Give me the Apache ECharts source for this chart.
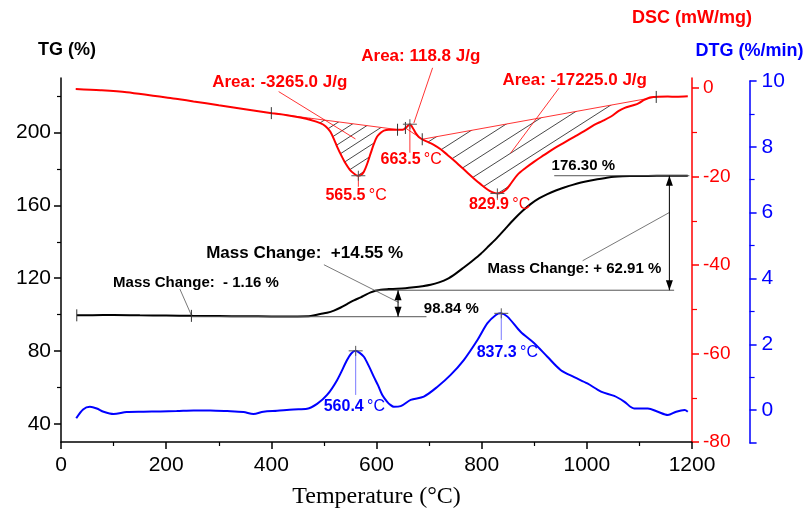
<!DOCTYPE html>
<html><head><meta charset="utf-8">
<script src="https://cdn.jsdelivr.net/npm/echarts@6/dist/echarts.min.js"></script>
<style>html,body{margin:0;padding:0;background:#fff}#c{width:809px;height:510px}</style>
</head><body><div id="c"></div>
<script>
// ---------------- data ----------------
const tgCurve = [[30,99.6],[60,99.7],[100,99.8],[150,99.6],[200,99.5],[250,99.3],[300,99.2],[350,99.1],[400,99.0],[450,99.0],[475,99.2],[493,100.3],[506,101.0],[519,102.2],[532,103.9],[544,105.8],[557,107.8],[570,109.5],[580,111.0],[589,112.2],[598,113.1],[608,113.7],[623,114.0],[639,114.2],[655,114.5],[671,115.0],[687,115.6],[703,116.4],[719,117.7],[735,119.6],[750,122.4],[766,125.9],[782,129.5],[798,133.3],[814,137.8],[830,142.4],[846,147.5],[862,152.5],[878,157.0],[893,160.7],[909,163.8],[925,166.2],[941,168.2],[957,169.8],[973,171.3],[989,172.6],[1005,173.6],[1020,174.4],[1036,175.1],[1052,175.7],[1068,176.0],[1084,176.1],[1116,176.2],[1150,176.3],[1192,176.3]];
const dscCurve = [[28,-0.16],[75,-0.45],[125,-0.9],[175,-1.7],[200,-2.1],[225,-2.5],[252,-3.0],[300,-3.86],[350,-4.75],[401,-5.66],[430,-6.1],[455,-6.65],[475,-7.2],[493,-7.9],[503,-8.6],[512,-9.8],[520,-11.8],[525,-13.2],[533,-15.2],[541,-17.0],[549,-18.4],[557,-19.3],[565,-19.8],[571,-19.6],[576,-18.9],[582,-17.2],[589,-14.7],[595,-12.6],[601,-11.0],[608,-10.1],[614,-9.6],[623,-9.4],[633,-9.4],[645,-9.4],[652,-9.3],[658,-8.7],[663.5,-8.15],[667,-8.6],[671,-9.4],[676,-10.4],[681,-11.1],[689,-11.7],[700,-12.3],[709,-12.8],[722,-13.8],[735,-15.1],[748,-16.4],[760,-17.7],[772,-19.0],[785,-20.4],[798,-21.7],[811,-22.9],[820,-23.5],[830,-23.8],[838,-23.6],[846,-23.0],[856,-21.5],[868,-19.6],[884,-18.0],[900,-16.6],[919,-15.1],[938,-13.6],[957,-12.3],[976,-11.0],[995,-9.7],[1014,-8.3],[1030,-7.4],[1046,-6.4],[1060,-5.2],[1071,-4.5],[1090,-3.8],[1100,-3.3],[1109,-2.65],[1120,-2.1],[1128,-2.0],[1154,-1.9],[1170,-1.95],[1192,-1.85]];
const dtgCurve = [[29,-0.25],[42,0.02],[55,0.10],[68,0.05],[81,-0.05],[100,-0.12],[125,-0.06],[157,-0.05],[189,-0.04],[220,-0.03],[252,-0.01],[284,-0.01],[316,-0.03],[347,-0.06],[366,-0.12],[385,-0.05],[411,-0.02],[442,0.02],[468,0.04],[487,0.19],[506,0.46],[525,0.91],[544,1.52],[552,1.72],[560,1.80],[568,1.74],[576,1.62],[586,1.32],[595,1.01],[603,0.75],[611,0.46],[620,0.26],[627,0.15],[633,0.10],[646,0.12],[665,0.31],[690,0.41],[716,0.71],[741,1.07],[766,1.52],[792,2.13],[811,2.64],[827,2.89],[836,2.94],[849,2.84],[874,2.38],[900,2.03],[925,1.62],[950,1.22],[976,1.0],[1001,0.81],[1027,0.56],[1052,0.43],[1071,0.26],[1090,0.05],[1116,0.05],[1135,-0.05],[1154,-0.15],[1170,-0.05],[1186,0.0],[1192,-0.05]];

// axis tick values
const tgLabelValues = [40,80,120,160,200];
const tgMinorValues = [60,100,140,180,220];
const dscLabelValues = [-80,-60,-40,-20,0];
const dscMinorValues = [-70,-50,-30,-10];
const dtgLabelValues = [0,2,4,6,8,10];
const dtgTickValues = [-1,0,2,4,6,8,10];
const dtgMinorValues = [1,3,5,7,9];

// TG annotations (temperature, %)
const tgLevels = [[248,695,98.84],[597,1166,113.39],[938,1195,176.30]];
const tgArrows = [[641,98.84,113.39],[1157,113.39,176.30]];
const tgLeaders = [[226,114.1,248,99.6],[500,127.4,642,106.7],[992,129.6,1157,156.1]];
const tgTickTemps = [30,248];
const tgTexts = ['Mass Change:  +14.55 %','Mass Change:  - 1.16 %','Mass Change: + 62.91 %','98.84 %','176.30 %'];
const tgTextAnchors = [[276,133.4],[99,117.5],[811,125.2],[690,103.3],[933,181.8]];

// DSC annotations (temperature, mW/mg)
const dscHatchRanges = [[400,642],[687,1132]];
const dscBaselineRanges = [[400,642],[655,687],[687,1132]];
const dscTickTemps = [400,640,655,687,1132];
const dscPeakTemps = [565.5,663.5,829.9];
const dscPeakValues = [-19.8,-8.15,-23.8];
const dscDropEnds = [-22.3,-14.6,-25.3];
const dscPeakLabelAnchors = [[502.9,-24.2],[607.6,-16.2],[775.8,-26.4]];
const dscAreaTexts = ['Area: -3265.0 J/g','Area: 118.8 J/g','Area: -17225.0 J/g'];
const dscAreaAnchors = [[287.6,1.27],[571,7.1],[839.4,1.88]];
const dscLeaders = [[413.9,-0.77,560,-11.48],[706.7,4.6,671,-7.9],[947,0,855,-14.7]];

// DTG annotations (temperature, %/min)
const dtgPeakTemps = [560.4,837.3];
const dtgPeakValues = [1.80,2.94];
const dtgDropEnds = [0.46,2.13];
const dtgPeakLabelAnchors = [[499.6,0.12],[790.5,1.74]];

// ---------------- helpers ----------------
const FONT = '"Liberation Sans", Arial, Helvetica, sans-serif';
const RED = '#ff0000', BLUE = '#0000ff';

function interp(curve, t) {
  if (t <= curve[0][0]) return curve[0][1];
  for (let i = 0; i < curve.length - 1; i++) {
    const a = curve[i], b = curve[i + 1];
    if (t >= a[0] && t <= b[0]) return a[1] + (b[1] - a[1]) * (t - a[0]) / (b[0] - a[0]);
  }
  return curve[curve.length - 1][1];
}
function makePattern(w, h) {
  const c = document.createElement('canvas'); c.width = w; c.height = h;
  const g = c.getContext('2d');
  g.strokeStyle = '#333'; g.lineWidth = 0.9;
  for (let k = -1; k <= 1; k++) { g.beginPath(); g.moveTo(0, h + k * h); g.lineTo(w, k * h); g.stroke(); }
  return c;
}
const patterns = [makePattern(17, 11), makePattern(25, 16)];
function seg(p1, p2, color, w) {
  return {type:'line', shape:{x1:p1[0], y1:p1[1], x2:p2[0], y2:p2[1]}, style:{stroke:color, lineWidth:w}};
}
function cross(p, color) {
  return [seg([p[0]-7,p[1]],[p[0]+7,p[1]],color,1), seg([p[0],p[1]-5],[p[0],p[1]+5],color,1)];
}
function vtick(p, color) { return seg([p[0],p[1]-6],[p[0],p[1]+6],color,1); }
function txt(p, s, color, size, bold) {
  return {type:'text', x:p[0], y:p[1], style:{text:s, fill:color, font:(bold?'bold ':'')+size+'px '+FONT, align:'left', verticalAlign:'middle'}};
}
function peakTxt(p, s, color, size) {
  return {type:'text', x:p[0], y:p[1], style:{text:'{b|'+s+'} {r|°C}', align:'left', verticalAlign:'middle',
    rich:{b:{fill:color, font:'bold '+size+'px '+FONT}, r:{fill:color, font:size+'px '+FONT}}}};
}
function arrowHead(p, up) {
  const d = up ? 1 : -1;
  return {type:'polygon', shape:{points:[[p[0],p[1]],[p[0]-3.5,p[1]+d*10],[p[0]+3.5,p[1]+d*10]]}, style:{fill:'#000'}};
}

// ---------------- chart ----------------
const chart = echarts.init(document.getElementById('c'), null, {renderer:'canvas', width:809, height:510});

const yBase = (extra) => Object.assign({type:'value', splitLine:{show:false}, minorSplitLine:{show:false}}, extra);
const plain = v => String(v);

const option = {
  animation: false,
  backgroundColor: '#ffffff',
  grid: [
    {left:61, right:117, top:78, bottom:68, containLabel:false, outerBoundsMode:'none'},
    {left:61, right:117, top:81, bottom:67, containLabel:false, outerBoundsMode:'none'}
  ],
  xAxis: [
    {gridIndex:0, type:'value', min:0, max:1200, interval:200,
     name:'Temperature (°C)', nameLocation:'middle', nameGap:43,
     nameTextStyle:{fontFamily:'"Liberation Serif", "Times New Roman", serif', fontSize:24, color:'#000'},
     axisLine:{onZero:false, lineStyle:{color:'#000', width:1.5}},
     axisTick:{length:7, lineStyle:{color:'#000', width:1.5}},
     minorTick:{show:true, splitNumber:2, length:4, lineStyle:{color:'#000', width:1.2}},
     axisLabel:{fontSize:21, color:'#000', fontFamily:FONT, margin:13, formatter:plain},
     splitLine:{show:false}, minorSplitLine:{show:false}},
    {gridIndex:1, type:'value', min:0, max:1200, show:false, axisLine:{onZero:false}}
  ],
  yAxis: [
    yBase({gridIndex:0, position:'left', offset:0, min:30, max:230,
      name:'TG (%)', nameLocation:'end', nameGap:19,
      nameTextStyle:{fontFamily:FONT, fontSize:18, fontWeight:'bold', color:'#000', padding:[0,0,0,12]},
      axisLine:{show:true, onZero:false, lineStyle:{color:'#000', width:1.5}},
      axisTick:{show:true, length:7, customValues:tgLabelValues, lineStyle:{color:'#000', width:1.5}},
      axisLabel:{customValues:tgLabelValues, fontSize:21, color:'#000', fontFamily:FONT, margin:10, formatter:plain}}),
    yBase({gridIndex:0, position:'left', offset:0, min:30, max:230,
      axisLine:{show:false, onZero:false}, axisLabel:{show:false},
      axisTick:{show:true, length:4, customValues:tgMinorValues, lineStyle:{color:'#000', width:1.2}}}),
    yBase({gridIndex:0, position:'right', offset:0, min:-80, max:2.3,
      name:'DSC (mW/mg)', nameLocation:'end', nameGap:51,
      nameTextStyle:{fontFamily:FONT, fontSize:18, fontWeight:'bold', color:RED},
      axisLine:{show:true, onZero:false, lineStyle:{color:RED, width:1.5}},
      axisTick:{show:true, length:7, customValues:dscLabelValues, lineStyle:{color:RED, width:1.5}},
      axisLabel:{customValues:dscLabelValues, fontSize:19, color:RED, fontFamily:FONT, margin:11, formatter:plain}}),
    yBase({gridIndex:0, position:'right', offset:0, min:-80, max:2.3,
      axisLine:{show:false, onZero:false}, axisLabel:{show:false},
      axisTick:{show:true, length:5, customValues:dscMinorValues, lineStyle:{color:RED, width:1.2}}}),
    yBase({gridIndex:1, position:'right', offset:57.6, min:-1, max:10,
      name:'DTG (%/min)', nameLocation:'end', nameGap:21,
      nameTextStyle:{fontFamily:FONT, fontSize:18, fontWeight:'bold', color:BLUE},
      axisLine:{show:true, onZero:false, lineStyle:{color:BLUE, width:1.5}},
      axisTick:{show:true, length:7, customValues:dtgTickValues, lineStyle:{color:BLUE, width:1.5}},
      axisLabel:{customValues:dtgLabelValues, fontSize:21, color:BLUE, fontFamily:FONT, margin:12, formatter:plain}}),
    yBase({gridIndex:1, position:'right', offset:57.6, min:-1, max:10,
      axisLine:{show:false, onZero:false}, axisLabel:{show:false},
      axisTick:{show:true, length:5, customValues:dtgMinorValues, lineStyle:{color:BLUE, width:1.2}}})
  ],
  series: [
    {type:'custom', xAxisIndex:0, yAxisIndex:2, z:1, silent:true, clip:false, data:[[600,-40]], encode:{x:0,y:1},
     renderItem:(params, api) => ({type:'group', children: dscHatchRanges.map((r, i) => {
       const pts = [api.coord([r[0], interp(dscCurve, r[0])])];
       dscCurve.forEach(d => { if (d[0] > r[0] && d[0] < r[1]) pts.push(api.coord(d)); });
       pts.push(api.coord([r[1], interp(dscCurve, r[1])]));
       return {type:'polygon', shape:{points:pts}, style:{fill:{image:patterns[i], repeat:'repeat'}}};
     })})},
    {type:'custom', xAxisIndex:0, yAxisIndex:2, z:3, silent:true, clip:false, data:[[600,-40]], encode:{x:0,y:1},
     renderItem:(params, api) => {
       const ch = [];
       dscBaselineRanges.forEach(r => ch.push(seg(api.coord([r[0], interp(dscCurve, r[0])]), api.coord([r[1], interp(dscCurve, r[1])]), RED, 0.8)));
       dscLeaders.forEach(l => ch.push(seg(api.coord([l[0], l[1]]), api.coord([l[2], l[3]]), RED, 0.8)));
       dscPeakTemps.forEach((t, i) => ch.push(seg(api.coord([t, dscPeakValues[i]]), api.coord([t, dscDropEnds[i]]), RED, 0.8)));
       dscTickTemps.forEach(t => ch.push(vtick(api.coord([t, interp(dscCurve, t)]), '#333')));
       dscPeakTemps.forEach((t, i) => cross(api.coord([t, dscPeakValues[i]]), '#555').forEach(e => ch.push(e)));
       dscAreaTexts.forEach((s, i) => ch.push(txt(api.coord(dscAreaAnchors[i]), s, RED, 17, true)));
       dscPeakTemps.forEach((t, i) => ch.push(peakTxt(api.coord(dscPeakLabelAnchors[i]), t.toFixed(1), RED, 16)));
       return {type:'group', children:ch};
     }},
    {type:'custom', xAxisIndex:0, yAxisIndex:0, z:3, silent:true, clip:false, data:[[600,100]], encode:{x:0,y:1},
     renderItem:(params, api) => {
       const ch = [];
       tgLevels.forEach(l => ch.push(seg(api.coord([l[0], l[2]]), api.coord([l[1], l[2]]), '#555', 1)));
       tgLeaders.forEach(l => ch.push(seg(api.coord([l[0], l[1]]), api.coord([l[2], l[3]]), '#555', 0.8)));
       tgArrows.forEach(a => {
         const lo = api.coord([a[0], a[1]]), hi = api.coord([a[0], a[2]]);
         ch.push(seg(lo, hi, '#000', 1));
         ch.push(arrowHead(hi, true));
         ch.push(arrowHead(lo, false));
       });
       tgTickTemps.forEach(t => ch.push(vtick(api.coord([t, interp(tgCurve, t)]), '#333')));
       tgTexts.forEach((s, i) => ch.push(txt(api.coord(tgTextAnchors[i]), s, '#000', i === 0 ? 17 : 15, true)));
       return {type:'group', children:ch};
     }},
    {type:'custom', xAxisIndex:1, yAxisIndex:4, z:3, silent:true, clip:false, data:[[600,2]], encode:{x:0,y:1},
     renderItem:(params, api) => {
       const ch = [];
       dtgPeakTemps.forEach((t, i) => ch.push(seg(api.coord([t, dtgPeakValues[i]]), api.coord([t, dtgDropEnds[i]]), '#7a7aff', 1)));
       dtgPeakTemps.forEach((t, i) => cross(api.coord([t, dtgPeakValues[i]]), '#555').forEach(e => ch.push(e)));
       dtgPeakTemps.forEach((t, i) => ch.push(peakTxt(api.coord(dtgPeakLabelAnchors[i]), t.toFixed(1), BLUE, 16)));
       return {type:'group', children:ch};
     }},
    {name:'TG', type:'line', xAxisIndex:0, yAxisIndex:0, data:tgCurve, showSymbol:false, smooth:0.3, z:2,
     lineStyle:{color:'#000', width:2}},
    {name:'DSC', type:'line', xAxisIndex:0, yAxisIndex:2, data:dscCurve, showSymbol:false, smooth:0.3, z:2,
     lineStyle:{color:RED, width:2}},
    {name:'DTG', type:'line', xAxisIndex:1, yAxisIndex:4, data:dtgCurve, showSymbol:false, smooth:0.3, z:2,
     lineStyle:{color:BLUE, width:2}}
  ]
};
chart.setOption(option);
</script>
</body></html>
